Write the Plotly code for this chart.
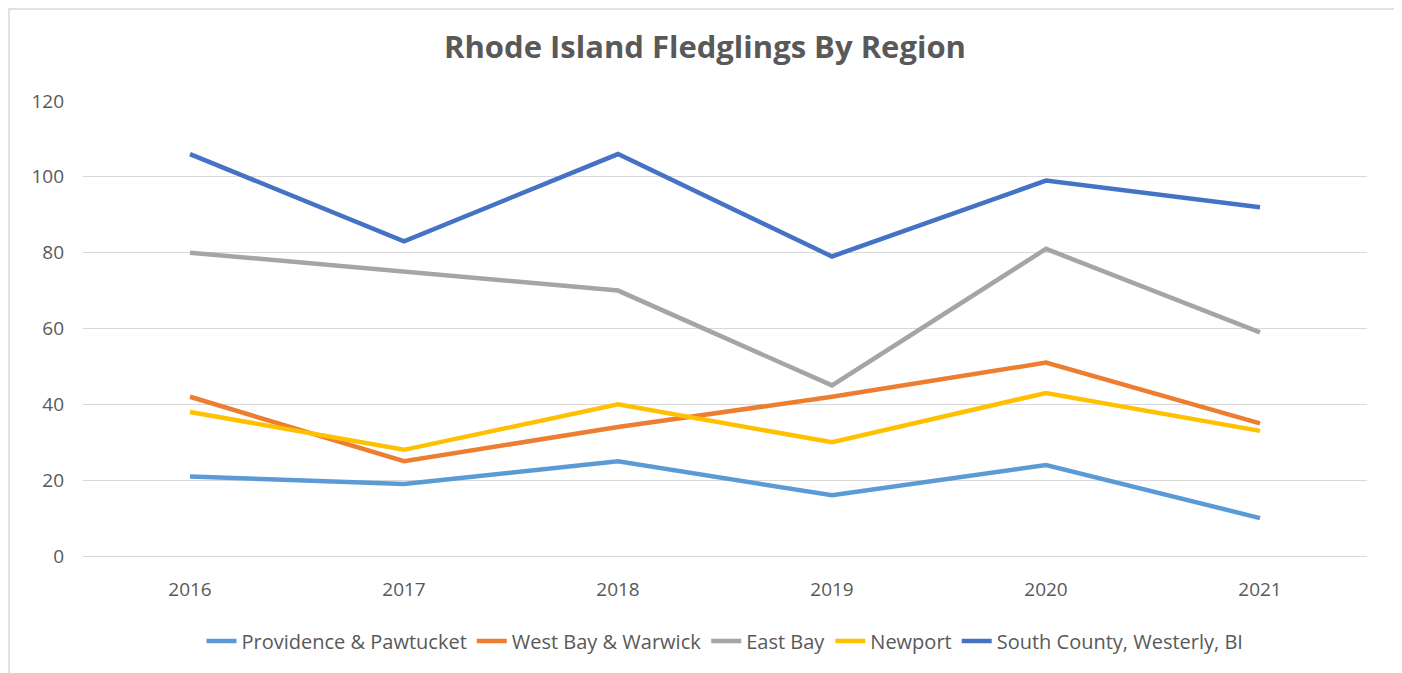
import plotly.graph_objects as go

years = ["2016", "2017", "2018", "2019", "2020", "2021"]
providence = [21, 19, 25, 16, 24, 10]
west_bay = [42, 25, 34, 42, 51, 35]
east_bay = [80, 75, 70, 45, 81, 59]
newport = [38, 28, 40, 30, 43, 33]
south_county = [106, 83, 106, 79, 99, 92]

series = [
    ("Providence & Pawtucket", providence, "#5B9BD5"),
    ("West Bay & Warwick", west_bay, "#ED7D31"),
    ("East Bay", east_bay, "#A5A5A5"),
    ("Newport", newport, "#FFC000"),
    ("South County, Westerly, BI", south_county, "#4472C4"),
]

fig = go.Figure()
for name, vals, color in series:
    fig.add_trace(go.Scatter(
        x=list(range(len(years))), y=vals, name=name, mode="lines",
        line=dict(color=color, width=4.5),
    ))

W, H = 1394, 665
L, R, T, B = 75, 35, 93, 117
pw, ph = W - L - R, H - T - B

font_family = "Open Sans, Lato, Liberation Sans, sans-serif"
fig.update_layout(
    width=W, height=H,
    margin=dict(l=L, r=R, t=T, b=B),
    paper_bgcolor="white", plot_bgcolor="white",
    title=dict(text="<b>Rhode Island Fledglings By Region</b>", x=0.5, xanchor="center",
               y=1 - 39 / H, yanchor="middle",
               font=dict(family=font_family, size=31, color="#595959")),
    font=dict(family=font_family, size=19, color="#595959"),
    xaxis=dict(
        tickmode="array", tickvals=list(range(len(years))), ticktext=years,
        range=[-0.5, 5.5], showgrid=False, zeroline=False,
        showline=True, linecolor="#D9D9D9", linewidth=1,
        ticks="", ticklabelstandoff=16,
        tickfont=dict(size=19, color="#595959"),
    ),
    yaxis=dict(
        range=[0, 120], dtick=20, showgrid=True, gridcolor="#D9D9D9", gridwidth=1,
        zeroline=False, showline=False, ticks="",
        tickfont=dict(size=19, color="#595959"), ticklabelstandoff=18,
    ),
    legend=dict(orientation="h", x=0.5, xanchor="center", y=-85 / ph, yanchor="middle",
                font=dict(size=20, color="#595959"), tracegroupgap=0),
    showlegend=True,
)
fig.add_shape(type="rect", xref="paper", yref="paper",
              x0=-(L - 1) / pw, x1=(1388 - L) / pw, y0=-(B + 5) / ph, y1=1 + (T - 1) / ph,
              line=dict(color="#D9D9D9", width=1.5), fillcolor="rgba(0,0,0,0)", layer="below")

fig.write_html("out.html")
